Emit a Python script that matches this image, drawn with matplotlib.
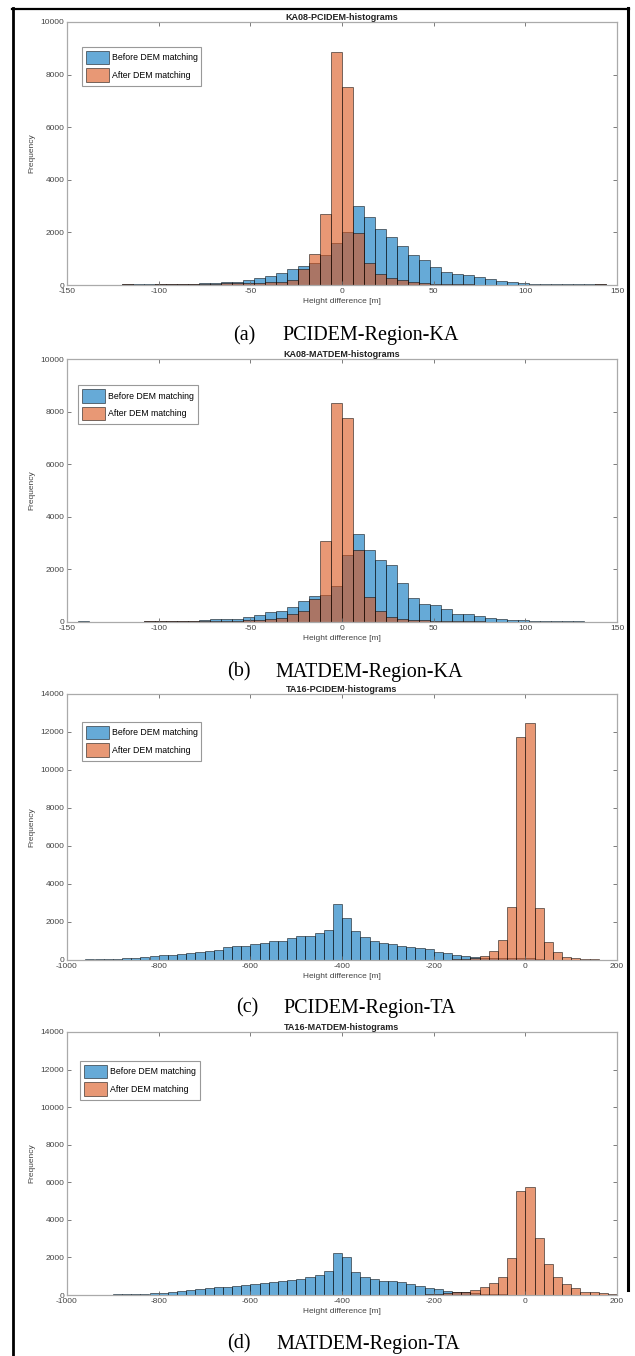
import numpy as np
import matplotlib
matplotlib.use("Agg")
import matplotlib.pyplot as plt
from matplotlib.lines import Line2D

plt.rcParams['font.family'] = ['Liberation Sans', 'DejaVu Sans']
plt.rcParams['axes.unicode_minus'] = False

W, H = 635, 1356

# bin edges of the MATLAB histograms
ka_edges = np.arange(-150, 151, 6)
ta_edges = np.arange(-1000, 201, 20)

# KA08 - PCIDEM (counts per 6 m bin, -150 .. 150)
ka_pci_before = [0, 0, 0, 0, 0, 30, 25, 30, 35, 40,
                 40, 50, 60, 80, 127, 127, 190, 254, 343, 445,
                 610, 725, 840, 1133, 1603, 2000, 3015, 2596, 2126, 1809,
                 1489, 1133, 943, 687, 500, 405, 380, 300, 240, 150,
                 100, 75, 45, 40, 35, 30, 25, 20, 30, 0]
ka_pci_after = [0, 0, 0, 0, 0, 25, 15, 15, 20, 25,
                25, 25, 30, 40, 60, 60, 70, 90, 110, 130,
                205, 620, 1160, 2700, 8860, 7530, 1985, 840, 435, 282,
                180, 120, 80, 40, 30, 20, 20, 15, 15, 10,
                10, 10, 10, 10, 5, 5, 5, 5, 20, 0]

# KA08 - MATDEM
ka_mat_before = [0, 20, 10, 10, 10, 10, 10, 30, 40, 40,
                 50, 50, 80, 110, 110, 130, 200, 278, 380, 403,
                 557, 810, 985, 1011, 1353, 2531, 3354, 2720, 2366, 2176,
                 1481, 896, 696, 630, 494, 300, 290, 220, 150, 120,
                 80, 60, 50, 30, 25, 30, 20, 15, 10, 5]
ka_mat_after = [0, 10, 5, 5, 5, 10, 10, 20, 20, 25,
                30, 30, 40, 40, 50, 50, 60, 80, 100, 140,
                300, 430, 890, 3062, 8316, 7747, 2750, 950, 403, 190,
                110, 80, 60, 50, 40, 30, 20, 20, 15, 15,
                10, 10, 10, 10, 5, 5, 5, 5, 5, 5]

# TA16 - PCIDEM (counts per 20 m bin, -1000 .. 200)
ta_pci_before = [10, 18, 35, 35, 53, 70, 88, 106, 176, 194,
                 246, 282, 317, 370, 405, 493, 528, 670, 757, 757,
                 845, 900, 985, 1020, 1160, 1250, 1285, 1426, 1600, 2950,
                 2200, 1550, 1230, 1020, 915, 827, 757, 704, 616, 563,
                 440, 387, 264, 211, 176, 120, 100, 100, 120, 130,
                 80, 40, 20, 0, 0, 0, 0, 0, 0, 0]
ta_pci_after = [0, 0, 0, 0, 0, 0, 0, 0, 0, 0,
                0, 0, 0, 0, 0, 0, 0, 0, 0, 0,
                0, 0, 0, 0, 0, 0, 0, 0, 0, 0,
                0, 0, 0, 0, 0, 0, 0, 0, 0, 0,
                5, 10, 30, 50, 100, 230, 490, 1056, 2764, 11760,
                12480, 2730, 970, 440, 176, 120, 50, 30, 20, 10]

# TA16 - MATDEM
ta_mat_before = [10, 15, 20, 15, 20, 30, 50, 55, 70, 90,
                 124, 177, 230, 265, 300, 355, 408, 443, 480, 530,
                 567, 620, 674, 745, 800, 850, 975, 1064, 1294, 2216,
                 2000, 1205, 940, 833, 745, 727, 674, 567, 496, 390,
                 300, 230, 180, 140, 90, 60, 40, 30, 20, 10,
                 5, 0, 0, 0, 0, 0, 0, 0, 0, 0]
ta_mat_after = [0, 0, 0, 0, 0, 0, 0, 0, 0, 0,
                0, 0, 0, 0, 0, 0, 0, 0, 0, 0,
                0, 0, 0, 0, 0, 0, 0, 0, 0, 0,
                5, 5, 10, 10, 10, 15, 15, 15, 20, 40,
                70, 124, 140, 177, 265, 443, 620, 975, 1950, 5532,
                5727, 3014, 1650, 940, 585, 355, 177, 140, 90, 50]

titles = ["KA08-PCIDEM-histograms", "KA08-MATDEM-histograms",
          "TA16-PCIDEM-histograms", "TA16-MATDEM-histograms"]
captions = [("(a)", "PCIDEM-Region-KA"), ("(b)", "MATDEM-Region-KA"),
            ("(c)", "PCIDEM-Region-TA"), ("(d)", "MATDEM-Region-TA")]
legend_labels = ["Before DEM matching", "After DEM matching"]

panels = [
    (ka_edges, ka_pci_before, ka_pci_after, (-150, 150), 50, 10000),
    (ka_edges, ka_mat_before, ka_mat_after, (-150, 150), 50, 10000),
    (ta_edges, ta_pci_before, ta_pci_after, (-1000, 200), 200, 14000),
    (ta_edges, ta_mat_before, ta_mat_after, (-1000, 200), 200, 14000),
]

# pixel layout: (top, bottom) of each axes, caption y, caption x positions
ax_tops = [22, 359, 694, 1032]
ax_bots = [285, 622, 960, 1295]
cap_y = [336, 672, 1008, 1344]
cap_x = [(233, 282), (227, 275), (236, 283), (227, 276)]
leg_pos = [(0.027, 0.905), (0.02, 0.90), (0.027, 0.895), (0.024, 0.89)]
ax_left, ax_right = 67, 617

blue = (0.0, 0.447, 0.741)
orange = (0.85, 0.325, 0.098)

fig = plt.figure(figsize=(W / 100, H / 100), dpi=100)

for k, (edges, before, after, xlim, xstep, ymax) in enumerate(panels):
    top, bot = ax_tops[k], ax_bots[k]
    ax = fig.add_axes([ax_left / W, 1 - bot / H, (ax_right - ax_left) / W, (bot - top) / H])
    bw = edges[1] - edges[0]
    ax.bar(edges[:-1], before, width=bw, align='edge', color=blue, alpha=0.6,
           edgecolor='k', linewidth=0.6, label=legend_labels[0])
    ax.bar(edges[:-1], after, width=bw, align='edge', color=orange, alpha=0.6,
           edgecolor='k', linewidth=0.6, label=legend_labels[1])
    ax.set_xlim(*xlim)
    ax.set_ylim(0, ymax)
    ax.set_xticks(np.arange(xlim[0], xlim[1] + 1, xstep))
    ax.set_yticks(np.arange(0, ymax + 1, 2000))
    for s in ax.spines.values():
        s.set_color('#aaaaaa')
        s.set_linewidth(0.9)
    ax.tick_params(direction='in', top=True, right=True, length=3, width=0.6,
                   color='#666666', labelcolor='#444444', labelsize=6, pad=2)
    ax.set_title(titles[k], fontsize=6.5, fontweight='bold', pad=1.5, color='#222222')
    ax.set_xlabel("Height difference [m]", fontsize=6, color='#444444', labelpad=2)
    ax.set_ylabel("Frequency", fontsize=6, color='#444444', labelpad=4)
    leg = ax.legend(loc='upper left', bbox_to_anchor=leg_pos[k], fontsize=6.3,
                    fancybox=False, edgecolor='#999999', framealpha=1,
                    borderaxespad=0, handlelength=2.6, handleheight=2.0,
                    borderpad=0.45, labelspacing=0.45, handletextpad=0.35)
    leg.get_frame().set_linewidth(0.8)
    fig.text(cap_x[k][0] / W, 1 - cap_y[k] / H, captions[k][0], fontsize=14.5,
             family='Liberation Serif', ha='left', va='center')
    fig.text(cap_x[k][1] / W, 1 - cap_y[k] / H, captions[k][1], fontsize=14.5,
             family='Liberation Serif', ha='left', va='center')

# page frame lines around the figure block
fig.add_artist(Line2D([13 / W, 13 / W], [1 - 8 / H, 0], color='k', linewidth=2))
fig.add_artist(Line2D([12 / W, 629 / W], [1 - 8.5 / H, 1 - 8.5 / H], color='k', linewidth=1.6))
fig.add_artist(Line2D([628 / W, 628 / W], [1 - 8 / H, 1 - 1290 / H], color='k', linewidth=2.2))

fig.savefig("out.png", dpi=100)
